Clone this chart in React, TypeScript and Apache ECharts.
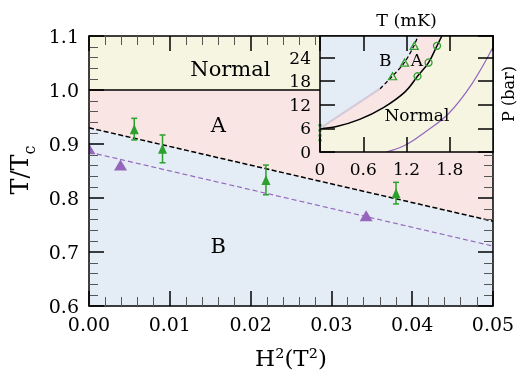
import React, { useEffect, useRef } from 'react';
import * as echarts from 'echarts';

const FONT = '"DejaVu Serif", serif';
const YELLOW = '#f5f5e2';
const PINK = '#fae5e5';
const BLUE = '#e4ecf5';
const GREEN = '#2ca02c';
const PURPLE = '#9467bd';

// ---- main panel data ----
const normalLevel = [1.0, 1.0];
const levelX = [0, 0.05];
const abLineX = [0, 0.05];
const abLineT = [0.93, 0.757];
const purpleLineX = [0, 0.05];
const purpleLineT = [0.885, 0.711];
const purpleH2 = [0, 0.0039, 0.0343];
const purpleT = [0.891, 0.861, 0.767];
const greenH2 = [0.0056, 0.0091, 0.0219, 0.038];
const greenT = [0.9275, 0.891, 0.8335, 0.809];
const greenErr = [0.02, 0.0257, 0.0275, 0.02];
const mainLabelText = ['Normal', 'A', 'B'];
const mainLabelX = [0.0175, 0.016, 0.016];
const mainLabelY = [1.039, 0.935, 0.711];

// ---- inset data ----
const anCurveT = [0, 0.23, 0.55, 0.88, 1.18, 1.353, 1.506, 1.623, 1.69];
const anCurveP = [6.0, 6.5, 8.3, 11.3, 15.3, 19.26, 22.75, 27.0, 29.5];
const abFaintT = [0, 0.834];
const abFaintP = [6.0, 16.1];
const abDashT = [0.834, 1.0, 1.17, 1.3, 1.36];
const abDashP = [16.1, 19.2, 22.7, 26.9, 29.5];
const purpleCurveT = [0.92, 1.18, 1.46, 1.785, 2.11, 2.41];
const purpleCurveP = [0, 1.7, 5.1, 9.8, 17.4, 27.0];
const circT = [1.353, 1.506, 1.623];
const circP = [19.26, 22.75, 27.0];
const triT = [1.006, 1.173, 1.307];
const triP = [19.26, 22.75, 27.0];
const zeroT = [0, 0, 0, 0];
const zeroP = [3.0, 4.2, 5.5, 6.8];
const insetLabelText = ['B', 'A', 'Normal'];
const insetLabelX = [0.904, 1.345, 1.345];
const insetLabelY = [23.5, 23.5, 9.3];

const zip = (a: number[], b: number[]) => a.map((v, i) => [v, b[i]]);

export default function App() {
  const ref = useRef<HTMLDivElement>(null);
  useEffect(() => {
    if (!ref.current) return;
    const chart = echarts.init(ref.current, null, { renderer: 'svg' });

    const tickStyle = { color: '#000', width: 1.5 };
    const mainAxisCommon = {
      type: 'value' as const,
      gridIndex: 0,
      z: 4,
      splitLine: { show: false },
      axisLine: { show: true, onZero: false, lineStyle: tickStyle },
      axisTick: { show: true, inside: true, length: 15, lineStyle: tickStyle },
      minorTick: { show: true, splitNumber: 5, length: 9, lineStyle: { color: '#555', width: 1 } },
    };
    const insetAxisCommon = {
      type: 'value' as const,
      gridIndex: 1,
      z: 20,
      splitLine: { show: false },
      axisLine: { show: true, onZero: false, lineStyle: tickStyle },
      axisTick: { show: true, inside: true, length: 15, lineStyle: tickStyle },
    };
    const labelStyle = (size: number) => ({
      show: true, position: 'inside', formatter: '{b}', fontFamily: FONT, fontSize: size,
      color: '#000', opacity: 1, textBorderWidth: 0,
    });

    const option: any = {
      animation: false,
      grid: [
        { left: 89, top: 36, width: 404, height: 270, show: true, backgroundColor: PINK, borderWidth: 0 },
        { left: 320, top: 36, width: 173, height: 116, show: false },
      ],
      xAxis: [
        {
          ...mainAxisCommon, position: 'bottom', min: 0, max: 0.05, interval: 0.01,
          axisLabel: { show: true, fontFamily: FONT, fontSize: 19, color: '#000', margin: 8, showMaxLabel: true, formatter: (v: number) => v.toFixed(2) },
        },
        { ...mainAxisCommon, position: 'top', min: 0, max: 0.05, interval: 0.01, axisLabel: { show: false } },
        {
          ...insetAxisCommon, position: 'bottom', min: 0, max: 2.4, interval: 0.6,
          axisLabel: { show: true, fontFamily: FONT, fontSize: 17, color: '#000', margin: 8, showMaxLabel: false },
        },
        { ...insetAxisCommon, position: 'top', min: 0, max: 2.4, interval: 0.6, axisLabel: { show: false } },
      ],
      yAxis: [
        {
          ...mainAxisCommon, position: 'left', min: 0.6, max: 1.1, interval: 0.1,
          axisLabel: { show: true, fontFamily: FONT, fontSize: 19, color: '#000', margin: 10, showMaxLabel: true, formatter: (v: number) => v.toFixed(1) },
        },
        { ...mainAxisCommon, position: 'right', min: 0.6, max: 1.1, interval: 0.1, axisLabel: { show: false } },
        {
          ...insetAxisCommon, position: 'left', min: 0, max: 29.5, interval: 6,
          axisLabel: { show: true, fontFamily: FONT, fontSize: 17, color: '#000', margin: 9, showMaxLabel: false },
        },
        { ...insetAxisCommon, position: 'right', min: 0, max: 29.5, interval: 6, axisLabel: { show: false } },
      ],
      series: [
        // main panel
        {
          type: 'line', xAxisIndex: 0, yAxisIndex: 0, z: 1, symbol: 'none',
          data: zip(levelX, normalLevel),
          lineStyle: { color: '#000', width: 1.5 },
          areaStyle: { color: YELLOW, origin: 'end', opacity: 1 },
        },
        {
          type: 'line', xAxisIndex: 0, yAxisIndex: 0, z: 1, symbol: 'none',
          data: zip(abLineX, abLineT),
          lineStyle: { color: '#000', width: 1.5, type: [5, 2.5] },
          areaStyle: { color: BLUE, origin: 'start', opacity: 1 },
        },
        {
          type: 'line', xAxisIndex: 0, yAxisIndex: 0, z: 2, symbol: 'none',
          data: zip(purpleLineX, purpleLineT),
          lineStyle: { color: PURPLE, width: 1.2, type: [5, 3] },
        },
        {
          type: 'custom', xAxisIndex: 0, yAxisIndex: 0, z: 3, clip: true,
          data: zip(purpleH2, purpleT),
          encode: { x: 0, y: 1 },
          renderItem: (params: any, api: any) => {
            const p = api.coord([api.value(0), api.value(1)]);
            const w = 6.5, h = 5.5;
            return {
              type: 'polygon',
              shape: { points: [[p[0], p[1] - h], [p[0] + w, p[1] + h], [p[0] - w, p[1] + h]] },
              style: { fill: PURPLE },
            };
          },
        },
        {
          type: 'custom', xAxisIndex: 0, yAxisIndex: 0, z: 3,
          data: greenH2.map((x, i) => [x, greenT[i], greenErr[i]]),
          encode: { x: 0, y: 1 },
          renderItem: (params: any, api: any) => {
            const x = api.value(0), y = api.value(1), e = api.value(2);
            const lo = api.coord([x, y - e]);
            const hi = api.coord([x, y + e]);
            const c = 3;
            const st = { stroke: GREEN, lineWidth: 1.5 };
            return {
              type: 'group',
              children: [
                { type: 'line', shape: { x1: lo[0], y1: lo[1], x2: hi[0], y2: hi[1] }, style: st },
                { type: 'line', shape: { x1: lo[0] - c, y1: lo[1], x2: lo[0] + c, y2: lo[1] }, style: st },
                { type: 'line', shape: { x1: hi[0] - c, y1: hi[1], x2: hi[0] + c, y2: hi[1] }, style: st },
              ],
            };
          },
        },
        {
          type: 'scatter', xAxisIndex: 0, yAxisIndex: 0, z: 3, symbol: 'triangle', symbolSize: [9, 10],
          data: zip(greenH2, greenT), itemStyle: { color: GREEN, opacity: 1 },
        },
        {
          type: 'scatter', xAxisIndex: 0, yAxisIndex: 0, z: 3, symbolSize: 1,
          itemStyle: { color: 'transparent', opacity: 1 },
          data: mainLabelText.map((t, i) => ({ name: t, value: [mainLabelX[i], mainLabelY[i]] })),
          label: labelStyle(21),
        },
        // inset
        {
          type: 'line', xAxisIndex: 2, yAxisIndex: 2, z: 5, symbol: 'none',
          data: [[0, 29.5], [2.4, 29.5]],
          lineStyle: { width: 0, opacity: 0 },
          areaStyle: { color: YELLOW, origin: 'start', opacity: 1 },
        },
        {
          type: 'line', xAxisIndex: 2, yAxisIndex: 2, z: 6, symbol: 'none', smooth: 0.4,
          data: zip(anCurveT, anCurveP),
          lineStyle: { color: '#000', width: 1.5 },
          areaStyle: { color: PINK, origin: 'end', opacity: 1 },
        },
        {
          type: 'line', xAxisIndex: 2, yAxisIndex: 2, z: 7, symbol: 'none', smooth: 0.3,
          data: zip(abFaintT, abFaintP).concat(zip(abDashT, abDashP).slice(1)),
          lineStyle: { width: 0, opacity: 0 },
          areaStyle: { color: BLUE, origin: 'end', opacity: 1 },
        },
        {
          type: 'line', xAxisIndex: 2, yAxisIndex: 2, z: 8, symbol: 'none',
          data: zip(abFaintT, abFaintP),
          lineStyle: { color: '#d4c9da', width: 2 },
        },
        {
          type: 'line', xAxisIndex: 2, yAxisIndex: 2, z: 8, symbol: 'none', smooth: 0.3,
          data: zip(abDashT, abDashP),
          lineStyle: { color: '#000', width: 1.3, type: [4, 2.5] },
        },
        {
          type: 'line', xAxisIndex: 2, yAxisIndex: 2, z: 8, symbol: 'none', smooth: 0.4,
          data: zip(purpleCurveT, purpleCurveP),
          lineStyle: { color: PURPLE, width: 1.2 },
        },
        {
          type: 'scatter', xAxisIndex: 2, yAxisIndex: 2, z: 9, symbol: 'circle', symbolSize: 7,
          data: zip(circT, circP),
          itemStyle: { color: 'transparent', borderColor: GREEN, borderWidth: 1.3, opacity: 1 },
        },
        {
          type: 'scatter', xAxisIndex: 2, yAxisIndex: 2, z: 9, symbol: 'triangle', symbolSize: [8, 7],
          data: zip(triT, triP),
          itemStyle: { color: 'transparent', borderColor: GREEN, borderWidth: 1.3, opacity: 1 },
        },
        {
          type: 'scatter', xAxisIndex: 2, yAxisIndex: 2, z: 9, symbol: 'rect', symbolSize: [3, 2.5],
          data: zip(zeroT, zeroP), itemStyle: { color: GREEN, opacity: 1 },
        },
        {
          type: 'scatter', xAxisIndex: 2, yAxisIndex: 2, z: 9, symbolSize: 1,
          itemStyle: { color: 'transparent', opacity: 1 },
          data: insetLabelText.map((t, i) => ({ name: t, value: [insetLabelX[i], insetLabelY[i]] })),
          label: labelStyle(17),
        },
      ],
      graphic: [
        {
          type: 'text', x: 291, y: 358, z: 100,
          style: { text: 'H²(T²)', font: `23px ${FONT}`, fill: '#000', align: 'center', verticalAlign: 'middle' },
        },
        {
          type: 'text', x: 20, y: 170, rotation: Math.PI / 2, z: 100,
          style: {
            text: '{m|T/T}{s|c}', align: 'center', verticalAlign: 'middle', fill: '#000',
            rich: {
              m: { fontFamily: FONT, fontSize: 24, lineHeight: 34, fill: '#000' },
              s: { fontFamily: FONT, fontSize: 16, lineHeight: 16, verticalAlign: 'bottom', fill: '#000' },
            },
          },
        },
        {
          type: 'text', x: 406.5, y: 20, z: 100,
          style: { text: 'T (mK)', font: `17.5px ${FONT}`, fill: '#000', align: 'center', verticalAlign: 'middle' },
        },
        {
          type: 'text', x: 508, y: 94, rotation: Math.PI / 2, z: 100,
          style: { text: 'P (bar)', font: `16px ${FONT}`, fill: '#000', align: 'center', verticalAlign: 'middle' },
        },
      ],
    };
    chart.setOption(option);
    return () => chart.dispose();
  }, []);
  return <div ref={ref} style={{ position: 'fixed', left: 0, top: 0, width: 518, height: 371 }} />;
}
